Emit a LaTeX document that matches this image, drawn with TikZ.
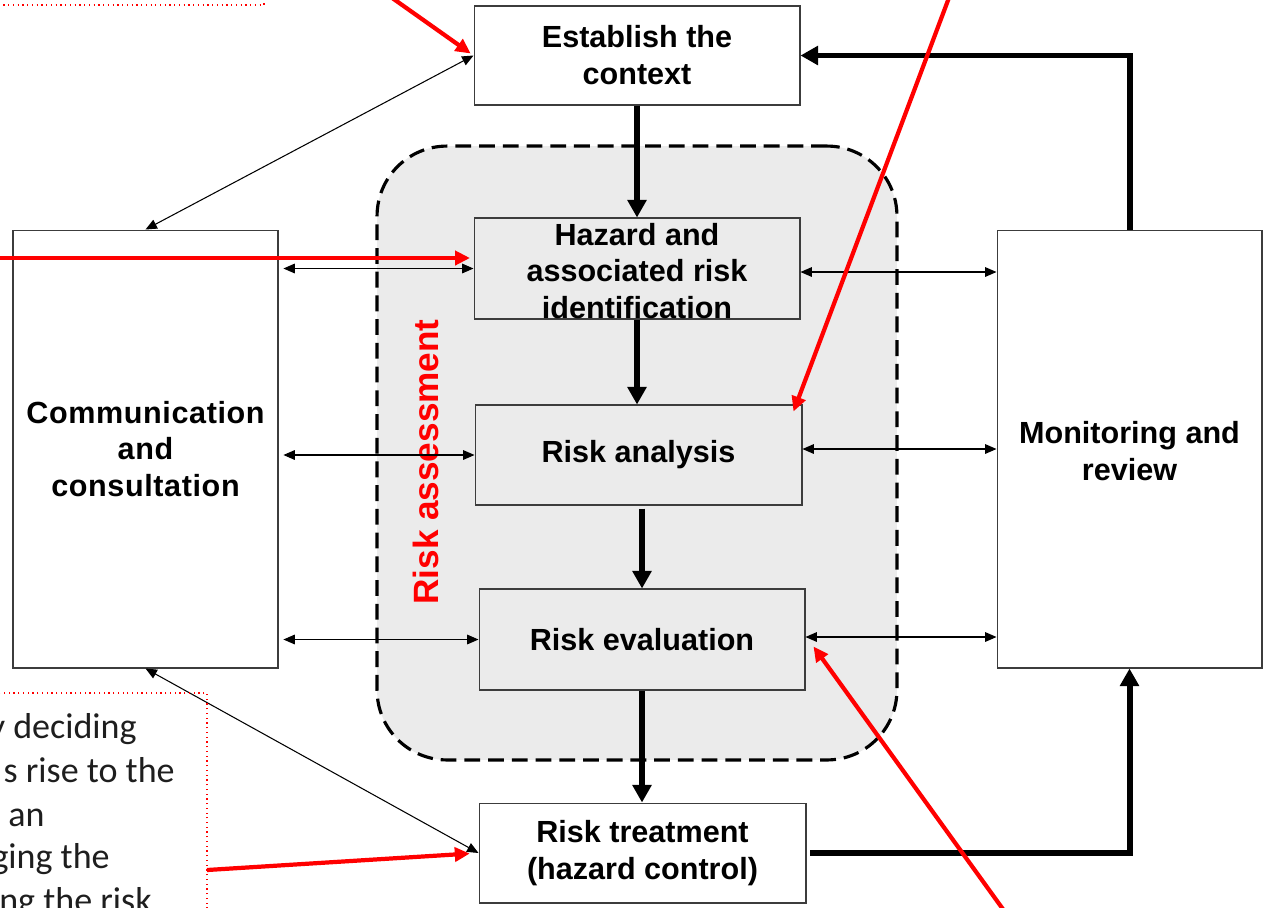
\documentclass[tikz,border=0pt]{standalone}
\usepackage{fontspec}
\setmainfont{Liberation Sans}
\newfontfamily\notefont{Carlito}
\usetikzlibrary{arrows.meta,calc}
\definecolor{regiongray}{HTML}{EBEBEB}
\definecolor{boxline}{HTML}{3C3C3C}
\definecolor{notetext}{HTML}{1E1E1E}
\definecolor{pptred}{HTML}{FF0000}
\begin{document}
\begin{tikzpicture}[x=0.02cm,y=-0.02cm,
  box/.style={draw=boxline, line width=0.6pt, fill=white, inner sep=0pt, align=center,
    font=\fontsize{17.4}{21}\selectfont\bfseries},
  graybox/.style={box, fill=regiongray},
  lbl/.style={inner sep=0pt, align=center, font=\fontsize{17.4}{21}\selectfont\bfseries},
  region/.style={draw=black, fill=regiongray, line width=1.8pt, dash pattern=on 9pt off 4.5pt,
    rounded corners=1.4cm, minimum width=10.4cm, minimum height=12.28cm, inner sep=0pt},
  flow/.style={line width=3.4pt, -{Triangle[length=10pt,width=10.5pt]}},
  dbl/.style={line width=0.6pt, {Triangle[length=6.5pt,width=5.5pt]}-{Triangle[length=6.5pt,width=5.5pt]}},
  redarrow/.style={draw=pptred, line width=2.4pt, -{Triangle[length=8.5pt,width=8pt]}},
  notebox/.style={draw=pptred, line width=0.7pt, dotted},
  notetxt/.style={inner sep=0pt, text=notetext, font=\notefont\fontsize{20.5}{24.75}\selectfont}
]
\useasboundingbox (0,0) rectangle (1270,907);
\clip (0,0) rectangle (1270,907);

% risk assessment region
\node[region] (ra) at (637,453) {};
\node[rotate=90, text=pptred, inner sep=0pt, font=\fontsize{20}{24}\selectfont\bfseries] (ralab) at (426,462) {Risk assessment};

% boxes
\node[box, minimum width=6.52cm, minimum height=1.98cm] (ctx) at (637,55.5) {Establish the\\context};
\node[graybox, minimum width=6.52cm, minimum height=2.02cm] (haz) at (637,268.5) {};
\node[lbl] (hazt) at (637,271) {Hazard and\\associated risk\\identification};
\node[graybox, minimum width=6.54cm, minimum height=2.0cm] (ana) at (638.5,455) {Risk analysis};
\node[graybox, minimum width=6.52cm, minimum height=2.02cm] (eva) at (642,639.5) {Risk evaluation};
\node[box, minimum width=6.54cm, minimum height=2.0cm] (trt) at (642.5,853) {Risk treatment\\(hazard control)};
\node[box, minimum width=5.3cm, minimum height=8.76cm,
  font=\fontsize{17.4}{21}\selectfont\bfseries\addfontfeatures{LetterSpace=2}] (com) at (145.5,449) {Communication\\and\\consultation};
\node[box, minimum width=5.3cm, minimum height=8.76cm] (mon) at (1129.5,449) {};
\node[lbl] (mont) at (1129.5,451) {Monitoring and\\review};

% main flow
\draw[flow] (ctx) -- (haz);
\draw[flow] (haz.south) -- (haz.south |- ana.north);
\draw[flow] ($(eva.north |- ana.south)+(0,3)$) -- (eva.north);
\draw[flow] (eva.south) -- (eva.south |- trt.north);
\draw[flow, shorten <=2pt] (trt.east) -| (mon.south);
\draw[flow] (mon.north) |- (ctx.east);

% communication links
\draw[dbl, shorten <=2.8pt] (com.east |- haz.west) -- (haz.west);
\draw[dbl, shorten <=2.8pt] (com.east |- ana.west) -- (ana.west);
\draw[dbl, shorten <=2.8pt] (com.east |- eva.west) -- (eva.west);
\draw[dbl] (ctx.west) -- (com.north);
\draw[dbl] (com.south) -- (trt.west);

% monitoring links
\draw[dbl] (haz.east |- 0,272) -- (mon.west |- 0,272);
\draw[dbl] (ana.east |- 0,449) -- (mon.west |- 0,449);
\draw[dbl] (eva.east |- 0,637) -- (mon.west |- 0,637);

% red callout boxes
\draw[notebox] (-10,-10) rectangle (264,5);
\draw[notebox] (-10,693) rectangle (207,920);
\node[notetxt, anchor=base east] (f1) at (137,738) {y deciding};
\node[notetxt, anchor=base east] (f2) at (175,782) {s rise to the};
\node[notetxt, anchor=base east] (f3) at (45,826) {an};
\node[notetxt, anchor=base east] (f4) at (110,868) {ging the};
\node[notetxt, anchor=base east] (f5) at (152,912) {ng the risk};

% red pointers
\coordinate (r1) at (388,-5);
\coordinate (r2) at (950,-5);
\coordinate (r3) at (-5,258);
\coordinate (r4) at (1005,912);
\coordinate (r5) at (207,870);
\draw[redarrow, shorten >=2pt] (r1) -- (ctx.west);
\draw[redarrow] (r2) -- ($(ana.north east)+(-9,7)$);
\draw[redarrow, shorten >=2pt] (r3) -- (r3 -| haz.west);
\draw[redarrow] (r4) -- ($(eva.east)+(8,7)$);
\draw[redarrow, shorten >=5pt] (r5) -- (trt.west);
\end{tikzpicture}
\end{document}
